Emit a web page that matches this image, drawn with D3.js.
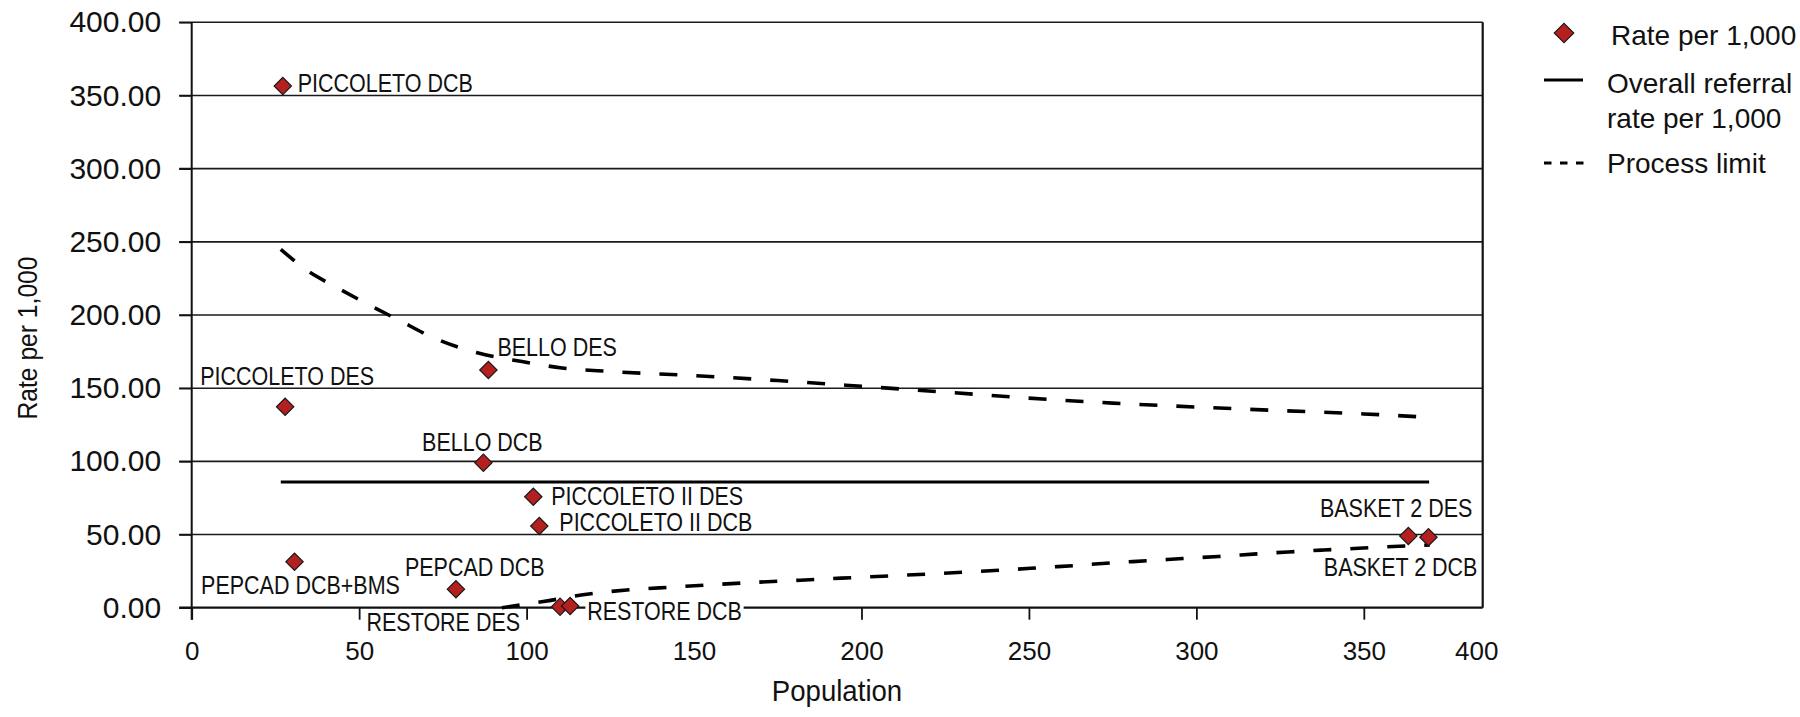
<!DOCTYPE html>
<html>
<head>
<meta charset="utf-8">
<script src="https://cdn.jsdelivr.net/npm/d3@7"></script>
<style>
  html, body { margin: 0; padding: 0; background: #fff; }
  svg { display: block; }
  text { font-family: "Liberation Sans", Arial, Helvetica, sans-serif; fill: #111; }
</style>
</head>
<body>
<svg id="chart" width="1800" height="717"></svg>
<script>
// ---------- data ----------
const names = ["PICCOLETO DCB", "PICCOLETO DES", "BELLO DES", "BELLO DCB",
  "PICCOLETO II DES", "PICCOLETO II DCB", "PEPCAD DCB+BMS", "PEPCAD DCB",
  "RESTORE DES", "RESTORE DCB", "BASKET 2 DES", "BASKET 2 DCB"];
const population = [27.2, 27.9, 88.6, 87.1, 102.0, 103.8, 30.7, 78.9, 110.0, 113.0, 363.3, 369.3];
const rate = [356.5, 137.3, 162.4, 99.1, 75.8, 55.8, 31.4, 12.6, 0.7, 1.2, 49.0, 48.1];

const overallRate = 85.9;

const upperPop = [26.6, 34.3, 42.9, 51.9, 61.5, 72.6, 85.3, 98.6, 110.6, 125, 150, 175, 200, 225, 250, 275, 300, 325, 350, 369.5];
const upperVal = [244.9, 230.7, 219.3, 208.2, 196.9, 184.1, 174.2, 168.2, 163.8, 161.4, 158.6, 155.2, 151.3, 147.3, 143.2, 139.8, 137.1, 134.7, 132.4, 130.1];

const lowerPop = [92.6, 105, 118, 131, 143.7, 156.8, 169, 181.7, 194, 206.4, 219, 231.5, 243.5, 254.5, 265, 275, 285.6, 296, 306.6, 317, 327.4, 338, 348.4, 358.8, 369.7];
const lowerVal = [0, 4.2, 9.2, 12.3, 14.1, 15.9, 17.4, 18.8, 20.2, 21.5, 22.9, 24.4, 25.9, 27.5, 29.0, 30.7, 32.1, 33.6, 35.0, 36.6, 38.1, 39.4, 40.6, 41.8, 42.8];

const xTicks = [0, 50, 100, 150, 200, 250, 300, 350, 400];
const yTicks = [0, 50, 100, 150, 200, 250, 300, 350, 400];

const xTitle = "Population";
const yTitle = "Rate per 1,000";
const legendItems = ["Rate per 1,000", "Overall referral|rate per 1,000", "Process limit"];

// ---------- layout (positions / styles, not data) ----------
const labelLayout = {
  "PICCOLETO DCB":    { dx: 15,  dy: 6,    anchor: "start" },
  "PICCOLETO DES":    { dx: 2,   dy: -22,  anchor: "middle" },
  "BELLO DES":        { dx: 9,   dy: -14,  anchor: "start" },
  "BELLO DCB":        { dx: -1,  dy: -12,  anchor: "middle" },
  "PICCOLETO II DES": { dx: 18,  dy: 8,    anchor: "start" },
  "PICCOLETO II DCB": { dx: 20,  dy: 5,    anchor: "start" },
  "PEPCAD DCB+BMS":   { dx: 6,   dy: 32,   anchor: "middle" },
  "PEPCAD DCB":       { dx: -51, dy: -13,  anchor: "start" },
  "RESTORE DES":      { dx: -40, dy: 24,   anchor: "end" },
  "RESTORE DCB":      { dx: 17,  dy: 14,   anchor: "start" },
  "BASKET 2 DES":     { dx: 64,  dy: -19,  anchor: "end" },
  "BASKET 2 DCB":     { dx: 49,  dy: 39,   anchor: "end" }
};

(function draw() {
const svg = d3.select("#chart");
const pLeft = 191.7, pRight = 1482.7, pTop = 22.3, pBottom = 607.7;

const x = d3.scaleLinear().domain([0, 385.5]).range([pLeft, pRight]);
const y = d3.scaleLinear().domain([0, 400]).range([pBottom, pTop]);

const RED = "#b41f1f";
const narrow = 0.86;

// gridlines (with outward tick stubs on the left)
svg.append("g").selectAll("line").data(yTicks.filter(v => v > 0)).join("line")
  .attr("x1", pLeft - 12.5).attr("x2", pRight)
  .attr("y1", d => y(d)).attr("y2", d => y(d))
  .attr("stroke", "#1a1a1a").attr("stroke-width", 1.6);

// y axis
const yAxis = d3.axisLeft(y).tickValues(yTicks).tickFormat(d3.format(".2f")).tickSize(12.5).tickPadding(18);
const gy = svg.append("g").attr("transform", `translate(${pLeft},0)`).call(yAxis);
gy.select(".domain").remove();
gy.selectAll(".tick line").attr("stroke", "#111").attr("stroke-width", 1.6);
gy.selectAll(".tick text").style("font-size", "30px").attr("fill", "#111")
  .attr("font-family", "Liberation Sans, Arial, sans-serif");

// x axis
const xAxis = d3.axisBottom(x).tickValues(xTicks.filter(v => v <= x.domain()[1])).tickFormat(d3.format("d")).tickSize(12).tickPadding(22);
const gx = svg.append("g").attr("transform", `translate(0,${pBottom})`).call(xAxis);
gx.select(".domain").remove();
gx.selectAll(".tick line").attr("stroke", "#111").attr("stroke-width", 1.8);
gx.selectAll(".tick text").style("font-size", "26px").attr("fill", "#111")
  .attr("font-family", "Liberation Sans, Arial, sans-serif");
// tick labels beyond the plotted range are pinned to the right edge
xTicks.filter(v => v > x.domain()[1]).forEach(v => {
  svg.append("text").attr("x", pRight - 6).attr("y", pBottom + 52)
    .attr("text-anchor", "middle").style("font-size", "26px").text(d3.format("d")(v));
});

// axis lines / frame
svg.append("line").attr("x1", pLeft).attr("x2", pLeft).attr("y1", pTop).attr("y2", pBottom + 12)
  .attr("stroke", "#111").attr("stroke-width", 2);
svg.append("line").attr("x1", pLeft - 12.5).attr("x2", pRight).attr("y1", pBottom).attr("y2", pBottom)
  .attr("stroke", "#111").attr("stroke-width", 2.2);
svg.append("line").attr("x1", pRight).attr("x2", pRight).attr("y1", pTop).attr("y2", pBottom)
  .attr("stroke", "#111").attr("stroke-width", 2.2);

// axis titles
svg.append("text").attr("transform", `translate(37,338) rotate(-90) scale(0.88,1)`)
  .attr("text-anchor", "middle").style("font-size", "28px").text(yTitle);
svg.append("text").attr("transform", `translate(837,701) scale(0.92,1)`)
  .attr("text-anchor", "middle").style("font-size", "30px").text(xTitle);

// process limits
const line = d3.line().x(d => x(d[0])).y(d => y(d[1])).curve(d3.curveMonotoneX);
const upper = upperPop.map((p, i) => [p, upperVal[i]]);
const lower = lowerPop.map((p, i) => [p, lowerVal[i]]);
[upper, lower].forEach(pts => {
  svg.append("path").attr("d", line(pts)).attr("fill", "none")
    .attr("stroke", "#000").attr("stroke-width", 3.6).attr("stroke-dasharray", "18,19");
});

// overall rate
const popExtent = [d3.min(upperPop), d3.max(upperPop)];
svg.append("line").attr("x1", x(popExtent[0])).attr("x2", x(popExtent[1]))
  .attr("y1", y(overallRate)).attr("y2", y(overallRate))
  .attr("stroke", "#000").attr("stroke-width", 3.2);

// points
const pts = names.map((n, i) => ({ name: n, pop: population[i], rate: rate[i] }));
const diamond = d3.symbol().type(d3.symbolSquare).size(150);

// labels (with white backing boxes)
const lg = svg.append("g");
pts.forEach(d => {
  const L = labelLayout[d.name];
  const px = x(d.pop) + L.dx, py = y(d.rate) + L.dy;
  const g = lg.append("g").attr("transform", `translate(${px},${py}) scale(${narrow},1)`);
  const rect = g.append("rect").attr("fill", "#fff");
  const t = g.append("text").attr("text-anchor", L.anchor).style("font-size", "25px").text(d.name);
  const bb = t.node().getBBox();
  rect.attr("x", bb.x - 2).attr("width", bb.width + 4).attr("y", -20).attr("height", 22);
});

svg.append("g").selectAll("path").data(pts).join("path")
  .attr("d", diamond)
  .attr("transform", d => `translate(${x(d.pop)},${y(d.rate)}) rotate(45)`)
  .attr("fill", RED).attr("stroke", "#1a1a1a").attr("stroke-width", 1.2);

// legend
const leg = svg.append("g");
leg.append("path").attr("d", d3.symbol().type(d3.symbolSquare).size(190))
  .attr("transform", "translate(1564,33) rotate(45)")
  .attr("fill", RED).attr("stroke", "#1a1a1a").attr("stroke-width", 1.2);
leg.append("line").attr("x1", 1544).attr("x2", 1583).attr("y1", 80).attr("y2", 80)
  .attr("stroke", "#000").attr("stroke-width", 3);
leg.append("line").attr("x1", 1544).attr("x2", 1584).attr("y1", 163).attr("y2", 163)
  .attr("stroke", "#000").attr("stroke-width", 3).attr("stroke-dasharray", "7.5,8.5");
const legY = [45, 93, 173];
const legX = [1611, 1607, 1607];
legendItems.forEach((txt, i) => {
  const parts = txt.split("|");
  const t = leg.append("text").attr("x", legX[i]).attr("y", legY[i]).style("font-size", "28px");
  parts.forEach((p, j) => {
    t.append("tspan").attr("x", legX[i]).attr("dy", j === 0 ? 0 : 34.5).text(p);
  });
});
})();
</script>
</body>
</html>
